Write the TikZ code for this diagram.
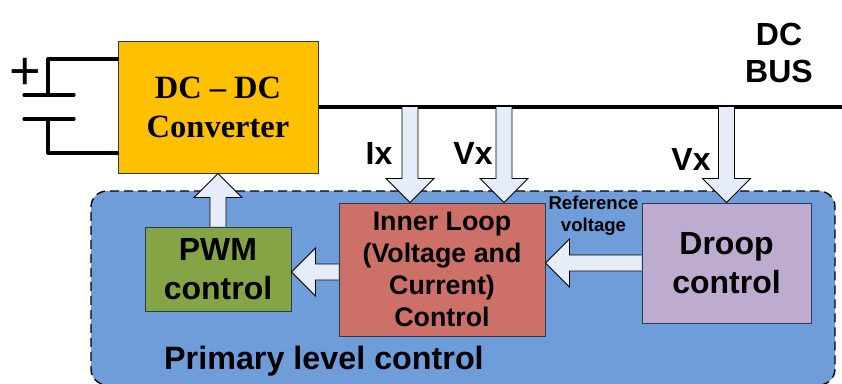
\documentclass[tikz,border=0pt]{standalone}
\usepackage{fontspec}
\setmainfont{Liberation Sans}
\newfontfamily\serifbold{Liberation Serif}[BoldFont={* Bold}]
\usetikzlibrary{positioning}
\usetikzlibrary{calc}
\definecolor{convcolor}{HTML}{FFC000}
\definecolor{panelcolor}{HTML}{6F9DDA}
\definecolor{innercolor}{HTML}{CD7068}
\definecolor{droopcolor}{HTML}{BDACD0}
\definecolor{pwmcolor}{HTML}{84A445}
\definecolor{arrowcolor}{HTML}{E6EDF8}
\definecolor{edgecolor}{HTML}{2B3A4E}
\tikzstyle{block} = [rectangle, draw=edgecolor, line width=1pt, inner sep=0pt, align=center, font=\fontsize{32}{39}\selectfont\bfseries]
\tikzstyle{wire} = [draw, black, line width=3.2pt, line join=round, line cap=round]
\tikzstyle{label} = [inner sep=0pt, align=center, font=\fontsize{32}{37}\selectfont\bfseries]
\tikzstyle{small} = [inner sep=0pt, align=center, font=\fontsize{18.6}{22}\selectfont\bfseries]
\newcommand{\blockarrow}[2]{
\coordinate (neck) at ($(#2)!24pt!(#1)$);
\draw [draw=black, line width=0.8pt, fill=arrowcolor, line join=miter]
  ($(#1)!8pt!90:(#2)$) -- ($(neck)!8pt!90:(#2)$) -- ($(neck)!24pt!90:(#2)$) -- (#2)
  -- ($(neck)!24pt!-90:(#2)$) -- ($(neck)!8pt!-90:(#2)$) -- ($(#1)!8pt!-90:(#2)$);
}

\begin{document}
\begin{tikzpicture}[x=1pt, y=-1pt]
\clip (0,0) rectangle (842,383);

\node [draw=black, dash pattern=on 9pt off 5pt, line width=1.4pt, fill=panelcolor, rounded corners=16pt, minimum width=744pt, minimum height=194pt] (panel) at (463,288) {};

\node [block, fill=convcolor, minimum width=200pt, minimum height=132pt, font=\fontsize{32.5}{39}\selectfont\serifbold\bfseries] (conv) at (218,107) {DC – DC\\Converter};
\node [block, fill=innercolor, minimum width=206pt, minimum height=133pt, font=\fontsize{26.8}{32}\selectfont\bfseries] (inner) at (442,269.5) {Inner Loop\\(Voltage and\\Current)\\Control};
\node [block, fill=droopcolor, minimum width=169pt, minimum height=120pt, right=96pt of inner.north east, anchor=north west] (droop) {Droop\\control};
\node [block, fill=pwmcolor, minimum width=146pt, minimum height=84pt] (pwm) at (218,269) {PWM\\control};

% battery
\coordinate (capa) at (48,95);
\coordinate (capb) at (48,119);
\node [inner sep=0pt, font=\fontsize{54}{54}\selectfont] (plus) at (25.5,73.5) {+};
\draw [wire] (capa) |- ($(conv.west)+(0,-48)$);
\draw [wire] (capb) |- ($(conv.west)+(0,46)$);
\draw [wire] ($(capa)+(-24,0)$) -- ($(capa)+(26,0)$);
\draw [wire] ($(capb)+(-24,0)$) -- ($(capb)+(26,0)$);

% dc bus
\coordinate (busend) at (842,107);
\draw [black, line width=3.2pt] (conv.east) -- (busend);
\coordinate (tapix) at (410,107);
\coordinate (tapvx) at (504,107);
\coordinate (tapdroop) at (droop.north |- busend);
\coordinate (tipix) at (tapix |- inner.north);
\coordinate (tipvx) at (tapvx |- inner.north);
\coordinate (tipref) at (inner.east |- droop.west);
\coordinate (tippwm) at ($(pwm.east)+(0,3)$);
\coordinate (startpwm) at (inner.west |- tippwm);

\blockarrow{tapix}{tipix}
\blockarrow{tapvx}{tipvx}
\blockarrow{tapdroop}{droop.north}
\blockarrow{droop.west}{tipref}
\blockarrow{startpwm}{tippwm}
\blockarrow{pwm.north}{conv.south}

\node [label] (ix) at (379,153) {Ix};
\node [label] (vxa) at (473,153) {Vx};
\node [label] (vxb) at (691,159) {Vx};
\node [label] (bus) at (779,53) {DC\\BUS};
\node [small] (ref) at (593.5,216) {Reference\\voltage};
\node [label, anchor=base west, font=\fontsize{32.3}{37}\selectfont\bfseries] (primary) at (164,369) {Primary level control};

\end{tikzpicture}
\end{document}
